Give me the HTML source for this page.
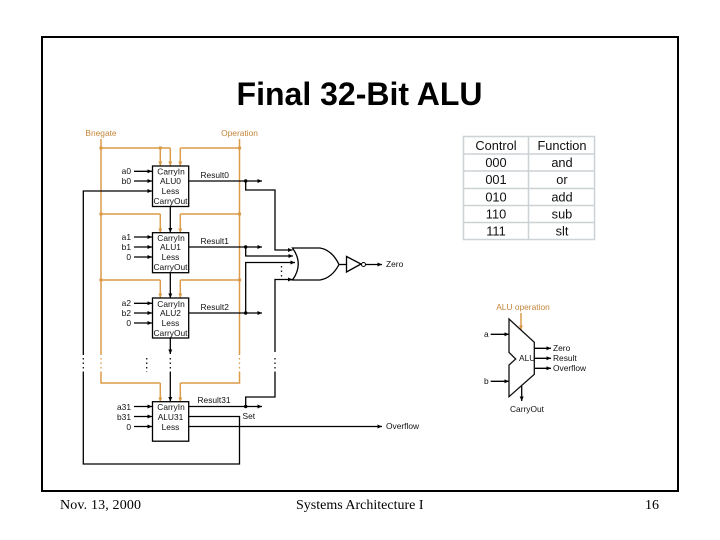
<!DOCTYPE html>
<html><head><meta charset="utf-8"><style>
html,body{margin:0;padding:0;background:#fff;width:720px;height:540px;overflow:hidden}
svg{display:block;font-family:"Liberation Sans",Arial,sans-serif}
.o{stroke:#dc9c4a;fill:none;stroke-width:1.5}
.k{stroke:#000;fill:none;stroke-width:1.3}
.t{font-size:8.4px;fill:#111}
.m{text-anchor:middle}
.e{text-anchor:end}
.ot{font-size:8.4px;fill:#c5863a}
.tb{font-size:12.8px;fill:#111;text-anchor:middle}
.f{font-family:"Liberation Serif","Times New Roman",serif;font-size:14px;fill:#000}
.soft{filter:blur(.3px)}
</style></head><body>
<svg width="720" height="540" viewBox="0 0 720 540" xmlns="http://www.w3.org/2000/svg">
<defs>
<marker id="a" markerWidth="6" markerHeight="6" refX="4.5" refY="2" orient="auto" markerUnits="userSpaceOnUse"><path d="M0 0L4.5 2L0 4Z" fill="#000"/></marker>
<marker id="b" markerWidth="6" markerHeight="6" refX="4.5" refY="2" orient="auto" markerUnits="userSpaceOnUse"><path d="M0 0L4.5 2L0 4Z" fill="#d99a48"/></marker>
</defs>
<rect x="42" y="37" width="636" height="454" fill="#fff" stroke="#000" stroke-width="2"/>
<text x="359.500" y="105" font-size="32" font-weight="bold" text-anchor="middle" fill="#000">Final 32-Bit ALU</text>

<g class="soft">
<!-- orange control -->
<text x="101" y="136" class="ot m">Bnegate</text>
<text x="239.500" y="136" class="ot m">Operation</text>
<path class="o" d="M101 139V355M101 372V383H160.300M239.500 139V355M239.500 372V383H180.300M101 148H170.300M180.300 148H239.500M101 214H160.300M180.300 214H239.500M101 280H160.300M180.300 280H239.500"/>
<path class="o" marker-end="url(#b)" d="M160.300 148V166"/>
<path class="o" marker-end="url(#b)" d="M170.300 148V166"/>
<path class="o" marker-end="url(#b)" d="M180.300 148V166"/>
<path class="o" marker-end="url(#b)" d="M160.300 214V233"/>
<path class="o" marker-end="url(#b)" d="M180.300 214V233"/>
<path class="o" marker-end="url(#b)" d="M160.300 280V298"/>
<path class="o" marker-end="url(#b)" d="M180.300 280V298"/>
<path class="o" marker-end="url(#b)" d="M160.300 383V402"/>
<path class="o" marker-end="url(#b)" d="M180.300 383V402"/>
<g fill="#d99a48"><circle cx="101" cy="148" r="1.700"/><circle cx="239.500" cy="148" r="1.700"/><circle cx="160.300" cy="148" r="1.700"/><circle cx="101" cy="214" r="1.700"/><circle cx="239.500" cy="214" r="1.700"/><circle cx="101" cy="280" r="1.700"/><circle cx="239.500" cy="280" r="1.700"/></g>

<!-- ALU boxes -->
<g fill="#fff" stroke="#000" stroke-width="1.300">
<rect x="152.500" y="166" width="36.200" height="40.500"/>
<rect x="152.500" y="232.700" width="36.200" height="40"/>
<rect x="152.500" y="298" width="36.200" height="40"/>
<rect x="152.500" y="401.700" width="36.200" height="39.500"/>
</g>
<g class="t m">
<text x="171" y="174.500">CarryIn</text><text x="170.500" y="184">ALU0</text><text x="170.500" y="194">Less</text><text x="170.500" y="204">CarryOut</text>
<text x="171" y="241">CarryIn</text><text x="170.500" y="250">ALU1</text><text x="170.500" y="260">Less</text><text x="170.500" y="270">CarryOut</text>
<text x="171" y="307">CarryIn</text><text x="170.500" y="316">ALU2</text><text x="170.500" y="326">Less</text><text x="170.500" y="336">CarryOut</text>
<text x="171" y="410">CarryIn</text><text x="170.500" y="420">ALU31</text><text x="170.500" y="430">Less</text>
</g>
<!-- inputs -->
<g class="t e">
<text x="131" y="174">a0</text><text x="131" y="184">b0</text>
<text x="131" y="240">a1</text><text x="131" y="250">b1</text><text x="131" y="260">0</text>
<text x="131" y="306">a2</text><text x="131" y="316">b2</text><text x="131" y="326">0</text>
<text x="131" y="410">a31</text><text x="131" y="420">b31</text><text x="131" y="430">0</text>
</g>
<g class="k">
<path marker-end="url(#a)" d="M134 171.300H152"/><path marker-end="url(#a)" d="M134 181H152"/>
<path marker-end="url(#a)" d="M134 237H152"/><path marker-end="url(#a)" d="M134 247H152"/><path marker-end="url(#a)" d="M134 257H152"/>
<path marker-end="url(#a)" d="M134 303.300H152"/><path marker-end="url(#a)" d="M134 313H152"/><path marker-end="url(#a)" d="M134 323H152"/>
<path marker-end="url(#a)" d="M134 406.500H152"/><path marker-end="url(#a)" d="M134 416.500H152"/><path marker-end="url(#a)" d="M134 426.500H152"/>
<path marker-end="url(#a)" d="M83.300 355V191H152"/>
<path marker-end="url(#a)" d="M170.300 206.500V232.500"/><path marker-end="url(#a)" d="M170.300 272.700V298"/><path marker-end="url(#a)" d="M170.300 338V354"/><path marker-end="url(#a)" d="M170.300 372V401.500"/>
<path marker-end="url(#a)" d="M189 181H262"/><path marker-end="url(#a)" d="M189 247H262"/><path marker-end="url(#a)" d="M189 313H262"/><path marker-end="url(#a)" d="M189 406.500H262"/>
<path marker-end="url(#a)" d="M189 426.500H382"/>
<path marker-end="url(#a)" d="M245.700 181V190H275V250H292.500"/>
<path marker-end="url(#a)" d="M245.700 247V256H293"/>
<path marker-end="url(#a)" d="M245.700 313V262.500H295"/>
<path marker-end="url(#a)" d="M275 352V279.500H292.500"/>
<path d="M275 372V397H245.700V406"/>
<path marker-end="url(#a)" d="M365.500 264.500H382"/>
<path marker-end="url(#a)" d="M534 348.300H551"/><path marker-end="url(#a)" d="M534 358.300H551"/><path marker-end="url(#a)" d="M534 368.300H551"/>
<path marker-end="url(#a)" d="M490.700 334.300H509"/><path marker-end="url(#a)" d="M490.700 381.300H509"/><path marker-end="url(#a)" d="M521.700 386V401"/>
<path d="M83.300 372V464H239.500V416.500H189"/>
</g>
<g fill="#000"><circle cx="245.700" cy="181" r="1.700"/><circle cx="245.700" cy="247" r="1.700"/><circle cx="245.700" cy="313" r="1.700"/><circle cx="245.700" cy="406.500" r="1.700"/></g>
<!-- ellipsis dots -->
<g stroke="#111" stroke-width="1.300" stroke-dasharray="1.500 3" fill="none">
<path d="M83.300 358V372"/><path d="M146.700 358V372"/><path d="M170.300 358V372"/><path d="M275 358V372"/><path d="M281.500 266V279"/>
</g>
<g stroke="#d99a48" stroke-width="1.300" stroke-dasharray="1.500 3" fill="none"><path d="M101 358V372"/><path d="M239.500 358V372"/></g>

<g class="t">
<text x="200.500" y="178">Result0</text><text x="200.500" y="244">Result1</text><text x="200.500" y="310">Result2</text><text x="197.500" y="403">Result31</text>
<text x="242.500" y="419">Set</text><text x="386" y="267">Zero</text><text x="386" y="429">Overflow</text>
</g>

<!-- OR + inverter -->
<path d="M292.500 248H320Q332 250 339 264.500Q332 278 320 280H292.500Q304 264 292.500 248Z" fill="none" stroke="#000" stroke-width="1.300"/>
<path class="k" d="M339 264.500H347"/>
<path d="M346.500 256.500V272L361 264Z" fill="#fff" stroke="#000" stroke-width="1.300"/>
<circle cx="363.500" cy="264.500" r="2" fill="#fff" stroke="#000" stroke-width="1"/>

<!-- table -->
<g fill="none" stroke="#cdd2d6" stroke-width="1.500">
<rect x="463.500" y="136.500" width="131" height="103"/>
<path d="M528.500 136.500V239.500M463.500 154H594.500M463.500 171H594.500M463.500 188.500H594.500M463.500 205.500H594.500M463.500 222.500H594.500"/>
</g>
<g class="tb">
<text x="496" y="150">Control</text><text x="562" y="150">Function</text>
<text x="496" y="167">000</text><text x="562" y="167">and</text>
<text x="496" y="184">001</text><text x="562" y="184">or</text>
<text x="496" y="201.500">010</text><text x="562" y="201.500">add</text>
<text x="496" y="218.500">110</text><text x="562" y="218.500">sub</text>
<text x="496" y="235.500">111</text><text x="562" y="235.500">slt</text>
</g>

<!-- ALU symbol -->
<text x="523" y="310" class="ot m">ALU operation</text>
<path d="M521 313V330" stroke="#dc9c4a" stroke-width="1.500" fill="none" marker-end="url(#b)"/>
<path d="M509 319L534.300 342.300V374.300L509 396.700V365L515.700 359L509 352.300Z" fill="none" stroke="#111" stroke-width="1.300"/>
<g class="t">
<text x="519" y="361">ALU</text><text x="553" y="351">Zero</text><text x="553" y="361">Result</text><text x="553" y="371">Overflow</text>
<text x="527" y="412" text-anchor="middle">CarryOut</text><text x="484" y="337">a</text><text x="484" y="384">b</text>
</g>
</g>

<text x="60" y="509" class="f" textLength="81">Nov. 13, 2000</text>
<text x="296" y="509" class="f">Systems Architecture I</text>
<text x="645" y="509" class="f">16</text>
</svg>
</body></html>
